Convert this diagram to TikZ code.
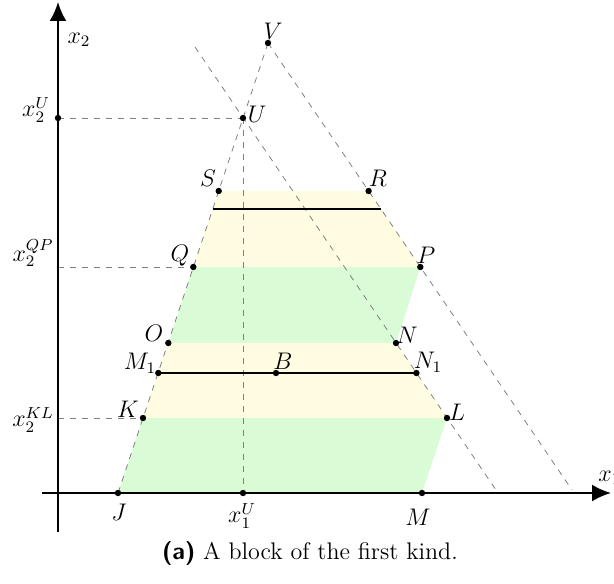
\documentclass[tikz,border=0pt]{standalone}
\usetikzlibrary{arrows.meta}
\definecolor{bandyellow}{RGB}{255,252,225}
\definecolor{bandgreen}{RGB}{217,252,215}
\begin{document}
\begin{tikzpicture}[x=0.5pt,y=-0.5pt,
  dot/.style={circle,fill=black,inner sep=0pt,minimum size=3.2pt},
  guide/.style={dashed,gray,line width=0.4pt},
  seg/.style={line width=0.8pt},
  axis/.style={line width=1.1pt,-{Latex[length=9.5pt,width=8.5pt]}},
  lab/.style={inner sep=0pt,font=\fontsize{12}{14.4}\selectfont}]
\useasboundingbox (0,0) rectangle (614,583);
% points
\coordinate (J) at (118,493);
\coordinate (K) at (143,418);
\coordinate (M1) at (158.3,373);
\coordinate (O) at (168.3,343);
\coordinate (Q) at (193.3,267);
\coordinate (S) at (218.7,191);
\coordinate (U) at (243,118);
\coordinate (V) at (268,43);
\coordinate (R) at (368.6,191);
\coordinate (P) at (420.3,267);
\coordinate (N) at (396,343);
\coordinate (N1) at (416.4,373);
\coordinate (L) at (447,418);
\coordinate (M) at (422,493);
\coordinate (B) at (276,373);
\coordinate (X2U) at (58,118);
\coordinate (X2QP) at (58,267);
\coordinate (X2KL) at (58,418);
\coordinate (X1U) at (243,493);
\coordinate (Vend) at (572,490);
\coordinate (Ustart) at (195,47);
\coordinate (Uend) at (496,490);
\coordinate (SRl) at (212.7,209);
\coordinate (SRr) at (381,209);
% fills
\fill[bandyellow] (S) -- (R) -- (P) -- (Q) -- cycle;
\fill[bandgreen] (Q) -- (P) -- (N) -- (O) -- cycle;
\fill[bandyellow] (O) -- (N) -- (N1) -- (L) -- (K) -- cycle;
\fill[bandgreen] (K) -- (L) -- (M) -- (J) -- cycle;
% guide lines
\draw[guide] (J) -- (V);
\draw[guide] (V) -- (Vend);
\draw[guide] (Ustart) -- (Uend);
\draw[guide] (X2U) -- (U);
\draw[guide] (U) -- (X1U);
\draw[guide] (X2QP) -- (Q);
\draw[guide] (X2KL) -- (K);
% axes
\coordinate (xa0) at (42,493);
\coordinate (xa1) at (611,493);
\coordinate (ya0) at (58,532);
\coordinate (ya1) at (58,2);
\draw[axis] (xa0) -- (xa1);
\draw[axis] (ya0) -- (ya1);
% solid segments
\draw[seg] (SRl) -- (SRr);
\draw[seg] (M1) -- (N1);
% dots
\foreach \p in {J,K,M1,O,Q,S,U,V,R,P,N,N1,L,M,B,X2U,X1U}
  \node[dot] (d\p) at (\p) {};
% labels
\node[lab] (lx2) at (79,40) {$x_2$};
\node[lab] (lx2U) at (36,110) {$x_2^U$};
\node[lab] (lx2QP) at (33,253) {$x_2^{QP}$};
\node[lab] (lx2KL) at (33,420) {$x_2^{KL}$};
\node[lab] (lV) at (273,31) {$V$};
\node[lab] (lU) at (257,114) {$U$};
\node[lab] (lS) at (208,178) {$S$};
\node[lab] (lR) at (378,178) {$R$};
\node[lab] (lQ) at (180,256) {$Q$};
\node[lab] (lP) at (426,255) {$P$};
\node[lab] (lO) at (154,333) {$O$};
\node[lab] (lN) at (407,335) {$N$};
\node[lab] (lM1) at (140,363) {$M_1$};
\node[lab] (lB) at (283,361) {$B$};
\node[lab] (lN1) at (428,362) {$N_1$};
\node[lab] (lK) at (128,409) {$K$};
\node[lab] (lL) at (457,412) {$L$};
\node[lab] (lJ) at (119,512) {$J$};
\node[lab] (lx1U) at (242,516) {$x_1^U$};
\node[lab] (lM) at (418,517) {$M$};
\node[lab,anchor=west] (lx1) at (598,478) {$x_1$};
% caption
\node[lab] (cap) at (310,553) {\textsf{\textbf{(a)}} A block of the first kind.};
\end{tikzpicture}
\end{document}
